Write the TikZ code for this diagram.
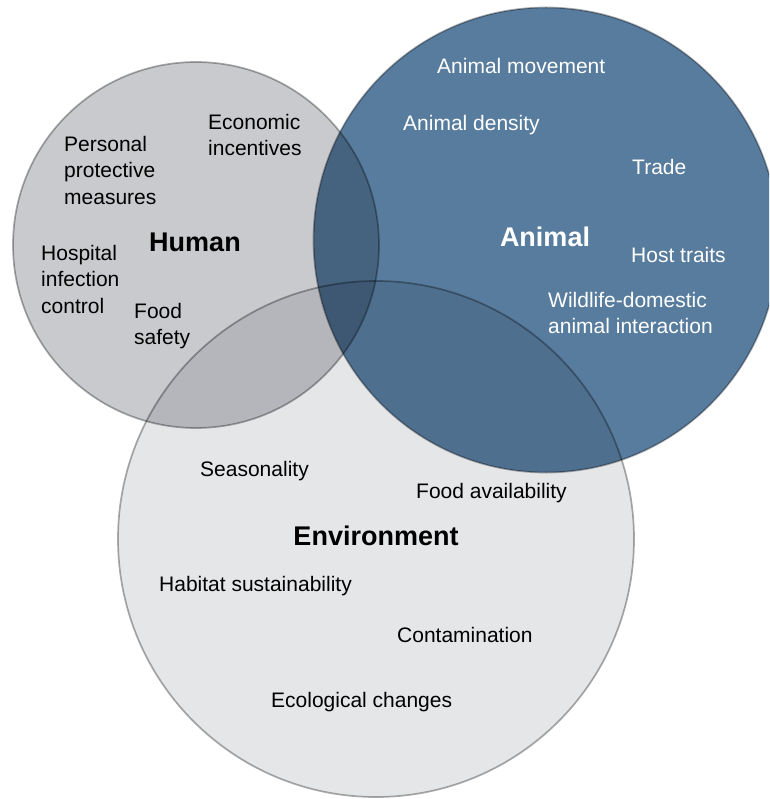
\documentclass[tikz,border=0pt]{standalone}
\usepackage{fontspec}
\setmainfont{Liberation Sans}
\definecolor{envfill}{HTML}{E5E6E8}
\definecolor{humfill}{HTML}{C9CACE}
\definecolor{animfill}{HTML}{587C9E}
\definecolor{rimgray}{HTML}{ACACAC}
\tikzset{
  vennset/.style={circle, draw=rimgray, line width=1.7pt, inner sep=0pt, outer sep=0pt},
  factor/.style={anchor=west, align=left, inner sep=0pt, font=\fontsize{21}{26.5}\selectfont},
  setname/.style={inner sep=0pt, font=\fontsize{27}{32}\selectfont\bfseries},
}
\begin{document}
\begin{tikzpicture}[x=1pt, y=-1pt]
	\useasboundingbox (0,0) rectangle (769,799);
	\clip (0,0) rectangle (769,799);
	\begin{scope}[blend mode=multiply]
		\node[vennset, fill=envfill, minimum size=516pt] (env) at (376,539) {};
		\node[vennset, fill=humfill, minimum size=366pt] (hum) at (196,245) {};
		\node[vennset, fill=animfill, minimum size=465pt] (anim) at (546,240) {};
	\end{scope}
	\node[factor] (ppm) at (64,170) {Personal\\protective\\measures};
	\node[factor] (econ) at (208,135) {Economic\\incentives};
	\node[setname] (human) at (195,242) {Human};
	\node[factor] (hosp) at (41,279) {Hospital\\infection\\control};
	\node[factor] (food) at (134,326) {Food\\safety};
	\node[factor, text=white] (move) at (437,66) {Animal movement};
	\node[factor, text=white] (dens) at (403,125) {Animal density};
	\node[factor, text=white] (trade) at (632,167) {Trade};
	\node[setname, text=white] (animal) at (545,237) {Animal};
	\node[factor, text=white] (host) at (631,255) {Host traits};
	\node[factor, text=white] (wild) at (548,313) {Wildlife-domestic\\animal interaction};
	\node[factor] (season) at (200,471) {Seasonality};
	\node[factor] (avail) at (416,493) {Food availability};
	\node[setname] (envir) at (376,536) {Environment};
	\node[factor] (habitat) at (159,586) {Habitat sustainability};
	\node[factor] (contam) at (397,635) {Contamination};
	\node[factor] (eco) at (271,702) {Ecological changes};
\end{tikzpicture}
\end{document}
